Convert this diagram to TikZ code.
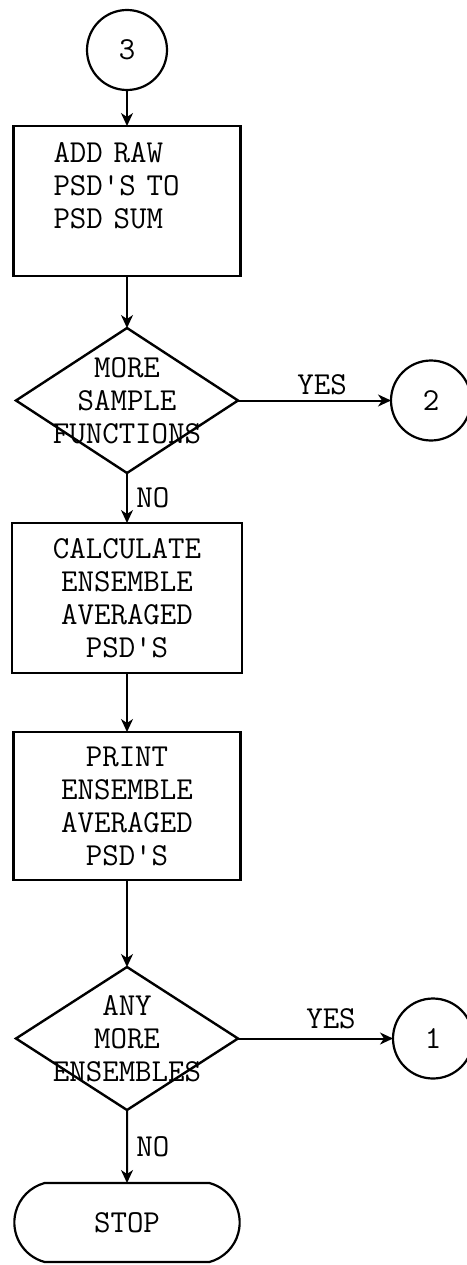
\documentclass[tikz,border=0pt]{standalone}
\usepackage{tikz}
\usetikzlibrary{shapes.geometric, shapes.misc, arrows.meta, positioning}

\begin{document}
\begin{tikzpicture}[
        every node/.style={align=center, outer sep=0pt, font=\fontsize{32}{33}\selectfont\ttfamily},
        connector/.style={circle, draw=black, line width=2.2pt, minimum size=80pt, inner sep=0pt},
        process/.style={
            rectangle, draw=black, line width=2.4pt,
            minimum height=150pt, inner sep=0pt
        },
        decision/.style={
            diamond, draw=black, line width=2.4pt,
            minimum width=222pt, minimum height=145pt, inner sep=0pt
        },
        startstop/.style={
            rounded rectangle, rounded rectangle arc length=150,
            draw=black, line width=2.2pt,
            minimum width=232pt, minimum height=79pt
        },
        arr/.style={-{Stealth[length=13pt, width=12pt, inset=4pt]}, line width=2pt},
    ]

    \useasboundingbox (0pt,0pt) rectangle (466pt,-1265pt);

    \node (con3)  [connector] at (127pt,-50pt) {3};
    \node (add)   [process, minimum width=227pt, text width=147pt, inner xsep=40pt, align=left,
                   below=36pt of con3] {ADD RAW\\PSD\textquotesingle S TO\\PSD SUM\\[-12pt]\strut};
    \node (more)  [decision, below=52pt of add] {};
    \node (moretxt) at (more.center) {MORE\\SAMPLE\\FUNCTIONS};
    \node (con2)  [connector, right=153pt of more] {2};
    \node (calc)  [process, minimum width=230pt, below=50pt of more]
                  {CALCULATE\\ENSEMBLE\\AVERAGED\\PSD\textquotesingle S};
    \node (print) [process, minimum width=227pt, minimum height=148pt, below=59pt of calc]
                  {PRINT\\ENSEMBLE\\AVERAGED\\PSD\textquotesingle S};
    \node (any)   [decision, minimum height=143pt, below=87pt of print] {};
    \node (anytxt) at (any.center) {ANY\\MORE\\ENSEMBLES};
    \node (con1)  [connector, right=155pt of any] {1};
    \node (stop)  [startstop, below=73pt of any] {STOP};

    \draw [arr] (con3)  -- (add);
    \draw [arr] (add)   -- (more);
    \draw [arr] (more)  -- node[right=6pt] {NO} (calc);
    \draw [arr] (more)  -- node[above=2pt, pos=0.55] {YES} (con2);
    \draw [arr] (calc)  -- (print);
    \draw [arr] (print) -- (any);
    \draw [arr] (any)   -- node[right=6pt] {NO} (stop);
    \draw [arr] (any)   -- node[above=6pt, pos=0.6] {YES} (con1);

\end{tikzpicture}
\end{document}
